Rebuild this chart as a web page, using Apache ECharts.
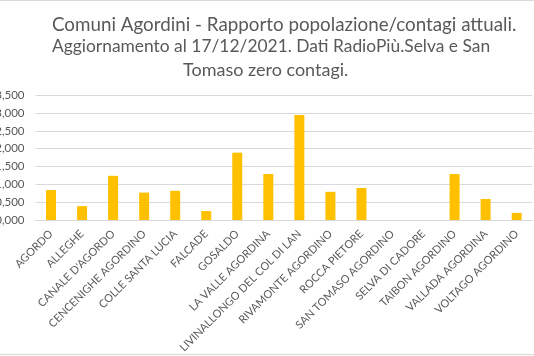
<!DOCTYPE html>
<html><head><meta charset="utf-8">
<script src="https://cdn.jsdelivr.net/npm/echarts@6/dist/echarts.min.js"></script>
<style>html,body{margin:0;padding:0;background:#fff}#c{width:534px;height:356px}</style>
</head><body><div id="c"></div>
<script>
const categories = ["AGORDO","ALLEGHE","CANALE D'AGORDO","CENCENIGHE AGORDINO","COLLE SANTA LUCIA","FALCADE","GOSALDO","LA VALLE AGORDINA","LIVINALLONGO DEL COL DI LAN","RIVAMONTE AGORDINO","ROCCA PIETORE","SAN TOMASO AGORDINO","SELVA DI CADORE","TAIBON AGORDINO","VALLADA AGORDINA","VOLTAGO AGORDINO"];
const values = [0.84,0.39,1.24,0.77,0.82,0.25,1.89,1.29,2.95,0.79,0.90,0,0,1.29,0.59,0.20];
const titleLines = ["Comuni Agordini - Rapporto popolazione/contagi attuali.","Aggiornamento al 17/12/2021. Dati RadioPiù.Selva e San","Tomaso zero contagi."];

const chart = echarts.init(document.getElementById('c'), null, {renderer:'canvas'});
const tStyle = {fontFamily:'Lato', fontSize:18, fontWeight:'normal', color:'#595959'};
chart.setOption({
  animation:false,
  title:[
    {text:titleLines[0], left:47, top:10, textStyle:Object.assign({}, tStyle, {fontSize:18.8})},
    {text:titleLines[1], left:47, top:33, textStyle:Object.assign({}, tStyle, {fontSize:17.4})},
    {text:titleLines[2], left:178, top:56, textStyle:tStyle}
  ],
  grid:{left:35.5, right:1.8, top:95.3, bottom:136, outerBoundsMode:'none', containLabel:false},
  xAxis:{type:'category', data:categories,
    axisTick:{show:false},
    axisLine:{lineStyle:{color:'#d9d9d9'}},
    axisLabel:{rotate:45, interval:0, margin:12, fontFamily:'Lato', fontSize:11, color:'#595959'}},
  yAxis:{type:'value', min:0, max:3.5, interval:0.5,
    axisLine:{show:false}, axisTick:{show:false},
    splitLine:{lineStyle:{color:'#d9d9d9'}},
    axisLabel:{margin:11, fontFamily:'Lato', fontSize:11.5, color:'#595959',
      formatter:v=>v.toFixed(3).replace('.',',')}},
  series:[{type:'bar', data:values, barWidth:10, itemStyle:{color:'#FFC000'}}],
  graphic:[
    {type:'line', shape:{x1:0,y1:0.5,x2:534,y2:0.5}, style:{stroke:'#d9d9d9',lineWidth:1}},
    {type:'line', shape:{x1:0,y1:354.5,x2:534,y2:354.5}, style:{stroke:'#d9d9d9',lineWidth:1}}
  ]
});
</script></body></html>
